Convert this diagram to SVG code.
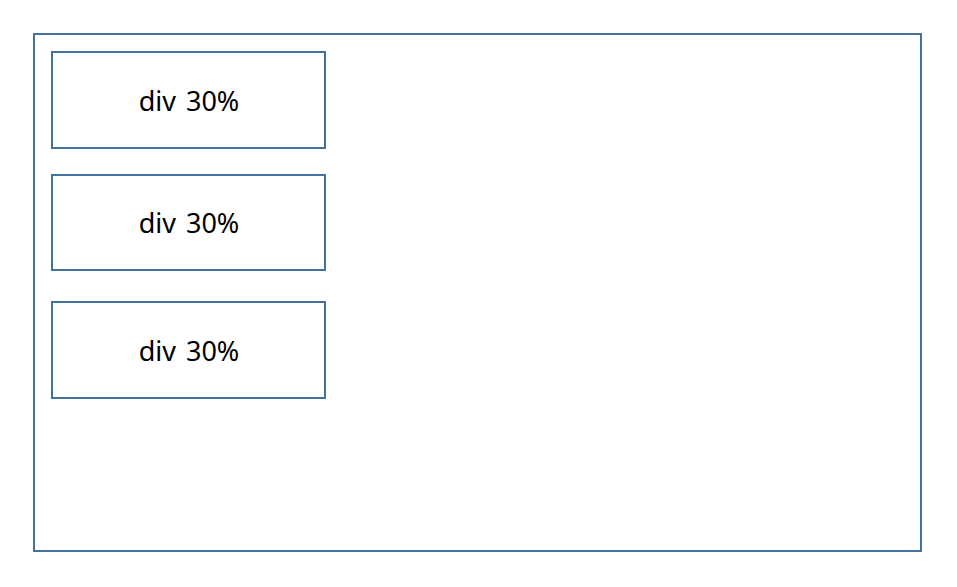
<svg xmlns="http://www.w3.org/2000/svg" width="957" height="587" viewBox="0 0 957 587">
<style>
.box{fill:#fff;stroke:#41719c;stroke-width:2}
.lbl{font-family:"Noto Sans","Open Sans",sans-serif;font-size:27px;word-spacing:3px;fill:#000;text-anchor:middle}
</style>
<rect width="957" height="587" fill="#fff"/>
<g id="container"><rect class="box" x="34" y="34" width="887" height="517"/></g>
<g id="div1"><rect class="box" x="52" y="52" width="273" height="96"/><text class="lbl" x="189" y="110.5">div 30%</text></g>
<g id="div2"><rect class="box" x="52" y="175" width="273" height="95"/><text class="lbl" x="189" y="232.5">div 30%</text></g>
<g id="div3"><rect class="box" x="52" y="302" width="273" height="96"/><text class="lbl" x="189" y="360.5">div 30%</text></g>
<g id="connectors"/>
</svg>
